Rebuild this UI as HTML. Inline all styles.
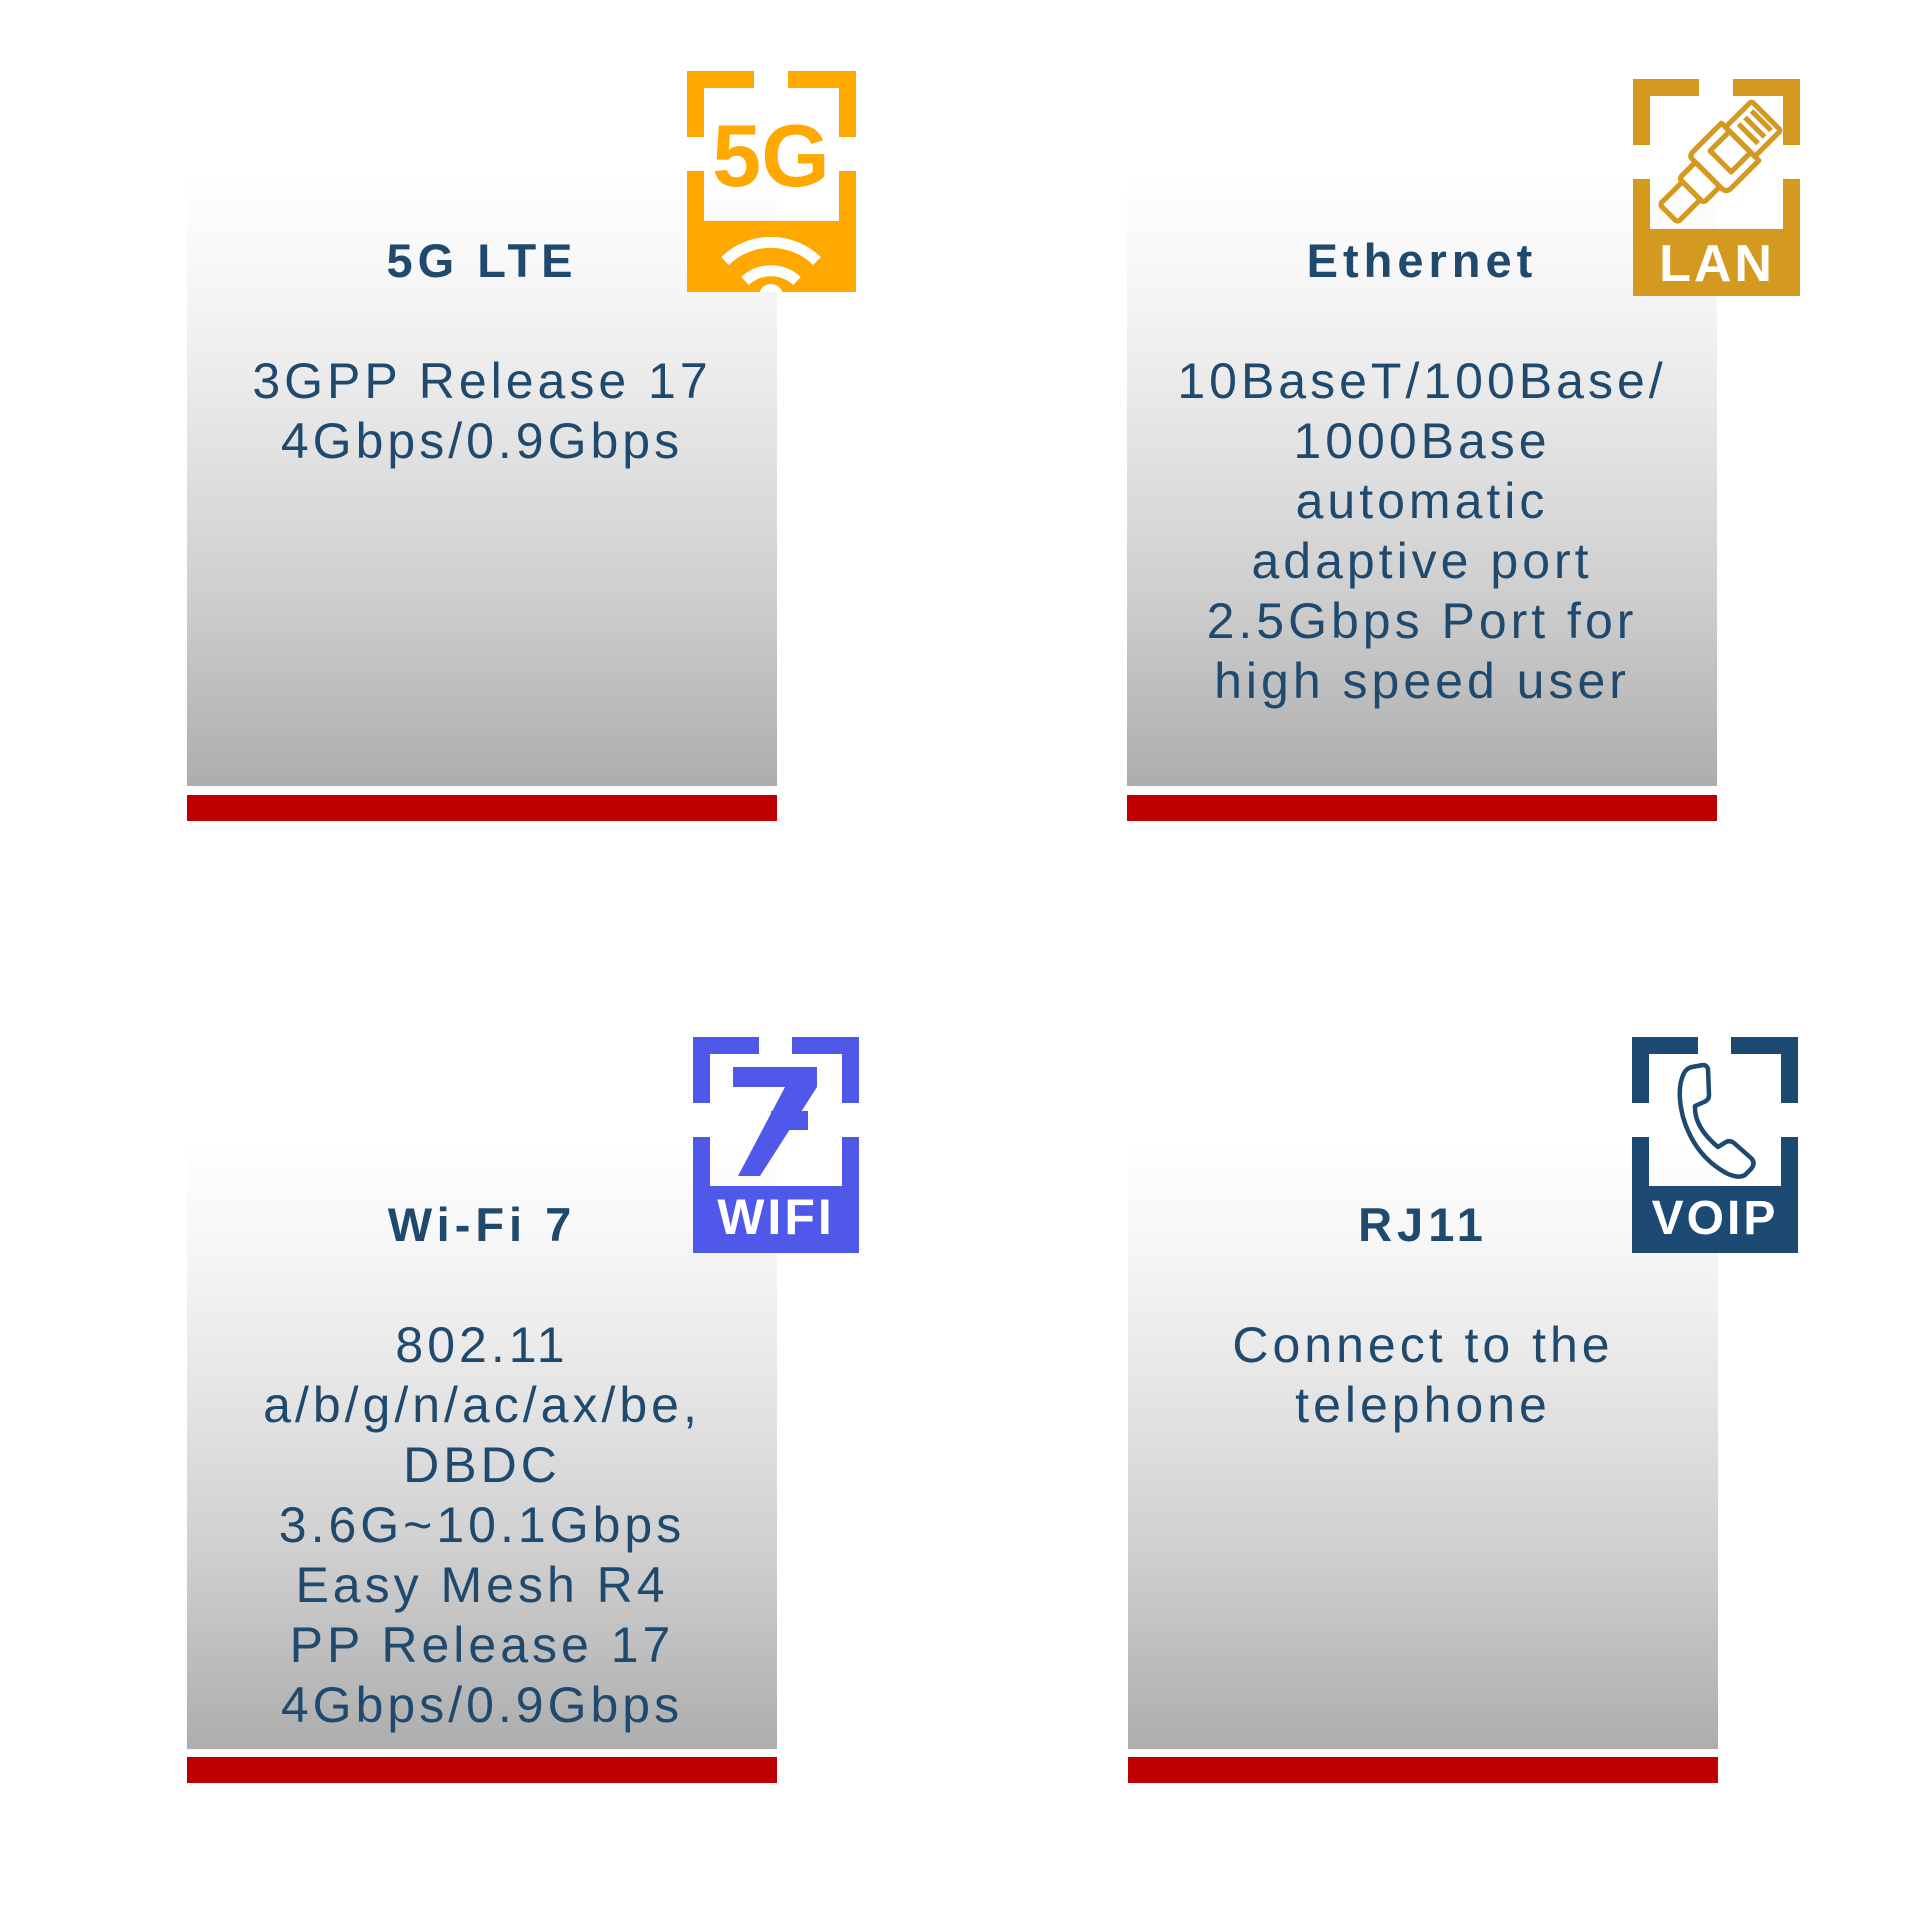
<!DOCTYPE html>
<html><head><meta charset="utf-8">
<style>
html,body{margin:0;padding:0;background:#fff;}
body{width:1920px;height:1920px;position:relative;overflow:hidden;font-family:"Liberation Sans",Arial,sans-serif;color:#1f4a6e;}
.box{position:absolute;width:590px;background:linear-gradient(to bottom,#ffffff 0%,#f6f6f6 18%,#e6e6e6 40%,#cfcfcf 68%,#adadad 100%);}
.red{position:absolute;width:590px;height:26px;background:#c00000;}
.t{position:absolute;width:590px;text-align:center;font-weight:bold;font-size:47px;letter-spacing:5px;line-height:60px;}
.b{position:absolute;width:590px;text-align:center;font-size:50px;letter-spacing:4px;line-height:60px;}
svg{position:absolute;}
</style></head><body>

<div class="box" style="left:187px;top:175px;height:611px"></div>
<div class="red" style="left:187px;top:795px"></div>
<div class="box" style="left:1127px;top:175px;height:611px"></div>
<div class="red" style="left:1127px;top:795px"></div>
<div class="box" style="left:187px;top:1140px;height:609px"></div>
<div class="red" style="left:187px;top:1757px"></div>
<div class="box" style="left:1128px;top:1140px;height:609px"></div>
<div class="red" style="left:1128px;top:1757px"></div>

<div class="t" style="left:187px;top:231px">5G LTE</div>
<div class="b" style="left:187px;top:351px">3GPP Release 17<br>4Gbps/0.9Gbps</div>

<div class="t" style="left:1127px;top:231px">Ethernet</div>
<div class="b" style="left:1127px;top:351px">10BaseT/100Base/<br>1000Base<br>automatic<br>adaptive port<br>2.5Gbps Port for<br>high speed user</div>

<div class="t" style="left:187px;top:1195px">Wi-Fi 7</div>
<div class="b" style="left:187px;top:1315px">802.11<br>a/b/g/n/ac/ax/be,<br>DBDC<br>3.6G~10.1Gbps<br>Easy Mesh R4<br>PP Release 17<br>4Gbps/0.9Gbps</div>

<div class="t" style="left:1128px;top:1195px">RJ11</div>
<div class="b" style="left:1128px;top:1315px">Connect to the<br>telephone</div>

<!-- 5G icon -->
<svg style="left:687px;top:71px" width="169" height="221" viewBox="0 0 169 221">
  <g fill="#ffa800">
    <rect x="0" y="0" width="67" height="17"/><rect x="101" y="0" width="68" height="17"/>
    <rect x="0" y="0" width="17" height="66"/><rect x="152" y="0" width="17" height="66"/>
    <rect x="0" y="100" width="17" height="121"/><rect x="152" y="100" width="17" height="121"/>
    <rect x="0" y="150" width="169" height="71"/>
  </g>
  <text x="84" y="115" text-anchor="middle" font-family="Liberation Sans, Arial, sans-serif" font-weight="bold" font-size="88" fill="#ffa800">5G</text>
  <g fill="none" stroke="#fff" stroke-width="11">
    <path d="M 38 190 A 66 66 0 0 1 130 190"/>
    <path d="M 58 210 A 38 38 0 0 1 110 210"/>
  </g>
  <circle cx="84" cy="225" r="12" fill="#fff"/>
</svg>

<!-- LAN icon -->
<svg style="left:1633px;top:79px" width="167" height="217" viewBox="0 0 167 217">
  <g fill="#d4991f">
    <rect x="0" y="0" width="66" height="17"/><rect x="100" y="0" width="67" height="17"/>
    <rect x="0" y="0" width="17" height="66"/><rect x="150" y="0" width="17" height="66"/>
    <rect x="0" y="100" width="17" height="117"/><rect x="150" y="100" width="17" height="117"/>
    <rect x="0" y="150" width="167" height="67"/>
  </g>
  <text x="84" y="202" text-anchor="middle" font-family="Liberation Sans, Arial, sans-serif" font-weight="bold" font-size="52" letter-spacing="3" fill="#fff">LAN</text>
  <g fill="none" stroke="#d4991f" stroke-width="4.5" stroke-linejoin="round" transform="translate(86 84) rotate(-45) scale(1.15) translate(-84 -93)">
    <rect x="22" y="82" width="28" height="22" rx="3"/>
    <rect x="50" y="78" width="20" height="30" rx="3"/>
    <path d="M 70 74 Q 70 70 76 70 L 110 70 L 110 116 L 76 116 Q 70 116 70 110 Z"/>
    <rect x="86" y="80" width="24" height="26"/>
    <rect x="110" y="75" width="32" height="36" rx="2"/>
    <path d="M 120 81 V 105 M 128 81 V 105 M 136 81 V 105"/>
  </g>
</svg>

<!-- WIFI 7 icon -->
<svg style="left:693px;top:1037px" width="166" height="216" viewBox="0 0 166 216">
  <g fill="#4f58e8">
    <rect x="0" y="0" width="66" height="17"/><rect x="99" y="0" width="67" height="17"/>
    <rect x="0" y="0" width="17" height="66"/><rect x="149" y="0" width="17" height="66"/>
    <rect x="0" y="100" width="17" height="116"/><rect x="149" y="100" width="17" height="116"/>
    <rect x="0" y="149" width="166" height="67"/>
    <polygon points="40,30 124,30 124,50 67,139 45,139 92,50 40,50"/>
    <rect x="78" y="74" width="37" height="19"/>
  </g>
  <text x="83" y="197" text-anchor="middle" font-family="Liberation Sans, Arial, sans-serif" font-weight="bold" font-size="50" letter-spacing="3" fill="#fff">WIFI</text>
</svg>

<!-- VOIP icon -->
<svg style="left:1632px;top:1037px" width="166" height="216" viewBox="0 0 166 216">
  <g fill="#1d4a72">
    <rect x="0" y="0" width="66" height="17"/><rect x="99" y="0" width="67" height="17"/>
    <rect x="0" y="0" width="17" height="66"/><rect x="149" y="0" width="17" height="66"/>
    <rect x="0" y="100" width="17" height="116"/><rect x="149" y="100" width="17" height="116"/>
    <rect x="0" y="149" width="166" height="67"/>
  </g>
  <path d="M 60 30 L 71 28 Q 75 28 76 32 L 77 58 Q 77 63 72 65 L 63 69 Q 62 90 86 110 L 94 105 Q 98 103 102 106 L 119 121 Q 124 126 119 132 L 113 138 Q 106 142 94 136 Q 62 118 51 80 Q 44 52 52 36 Q 55 31 60 30 Z" fill="none" stroke="#1d4a72" stroke-width="4.5" stroke-linejoin="round"/>
  <text x="83" y="197" text-anchor="middle" font-family="Liberation Sans, Arial, sans-serif" font-weight="bold" font-size="48" letter-spacing="3" fill="#fff">VOIP</text>
</svg>

</body></html>
